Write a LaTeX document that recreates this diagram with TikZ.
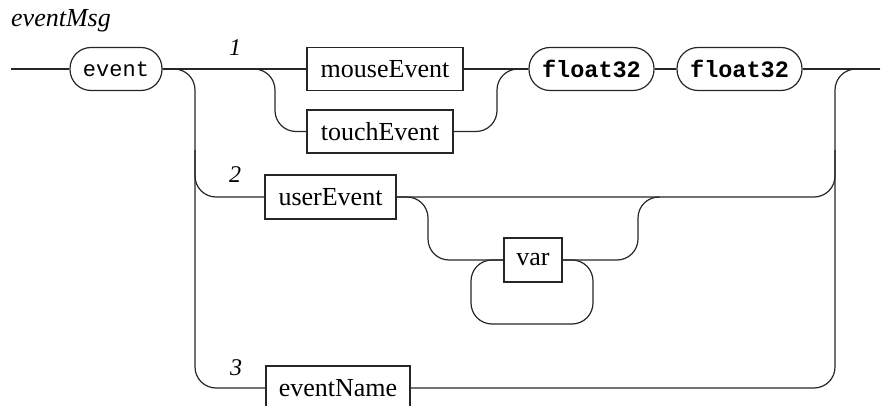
\documentclass[tikz,border=0pt]{standalone}
\usepackage{fontspec}
\setmainfont{Liberation Serif}
\setmonofont{Liberation Mono}
\begin{document}
\begin{tikzpicture}[x=1pt,y=-1pt,
  rail/.style={draw=black!85, line width=1.2pt, rounded corners=21pt},
  ntbox/.style={draw=black!85, line width=1.2pt, minimum height=43pt, inner sep=0pt, font=\fontsize{26}{30}\selectfont},
  tbox/.style={draw=black!85, line width=1.2pt, rounded corners=21pt, minimum height=43pt, inner sep=0pt},
  lbl/.style={font=\fontsize{24}{28}\selectfont\itshape, anchor=base, inner sep=0pt}]
\useasboundingbox (0,0) rectangle (894,406);
% title and labels
\node[anchor=base west, inner sep=0pt, font=\fontsize{26}{30}\selectfont\itshape] (title) at (11,27) {eventMsg};
\node[lbl] (l1) at (235,56) {1};
\node[lbl] (l2) at (235,183) {2};
\node[lbl] (l3) at (236,375) {3};
% nodes
\node[tbox, minimum width=92pt, font=\fontsize{22}{26}\selectfont\ttfamily] (event) at (116,69) {event};
\node[ntbox, minimum width=156pt] (mouse) at (385,69) {mouseEvent};
\node[ntbox, minimum width=146pt] (touch) at (380,131.5) {touchEvent};
\node[tbox, minimum width=125pt, font=\fontsize{23.5}{27}\selectfont\ttfamily\bfseries] (f1) at (591.5,69) {float32};
\node[tbox, minimum width=125pt, font=\fontsize{23.5}{27}\selectfont\ttfamily\bfseries] (f2) at (739.5,69) {float32};
\node[ntbox, minimum width=131pt, minimum height=44pt] (user) at (330.5,197) {userEvent};
\node[ntbox, minimum width=58pt, minimum height=44pt] (var) at (533,260) {var};
\node[ntbox, minimum width=144pt, minimum height=44pt] (ename) at (338,388) {eventName};
\coordinate (start) at (11,69);
\coordinate (end) at (880,69);
% main line
\draw[rail] (start) -- (event.west);
\draw[rail] (event.east) -- (mouse.west);
\draw[rail] (mouse.east) -- (f1.west);
\draw[rail] (f1.east) -- (f2.west);
\draw[rail] (f2.east) -- (end);
% left rail and branches
\draw[rail] (event.east) -- (195,69) -- (195,388) -- (ename.west);
\draw[rail] (195,150) -- (195,197) -- (user.west);
% branch 1 choice
\draw[rail] (event.east) -- (275,69) -- (275,131.5) -- (touch.west);
\draw[rail] (touch.east) -- (497,131.5) -- (497,69) -- (f1.west);
% right rail
\draw[rail] (ename.east) -- (835,388) -- (835,69) -- (end);
\draw[rail] (user.east) -- (835,197) -- (835,150);
% optional var with loop
\draw[rail] (user.east) -- (428,197) -- (428,260) -- (var.west);
\draw[rail] (var.east) -- (638,260) -- (638,197) -- (659.5,197);
\draw[rail] (var.east) -- (593,260) -- (593,324) -- (471,324) -- (471,260) -- (var.west);
\end{tikzpicture}
\end{document}
